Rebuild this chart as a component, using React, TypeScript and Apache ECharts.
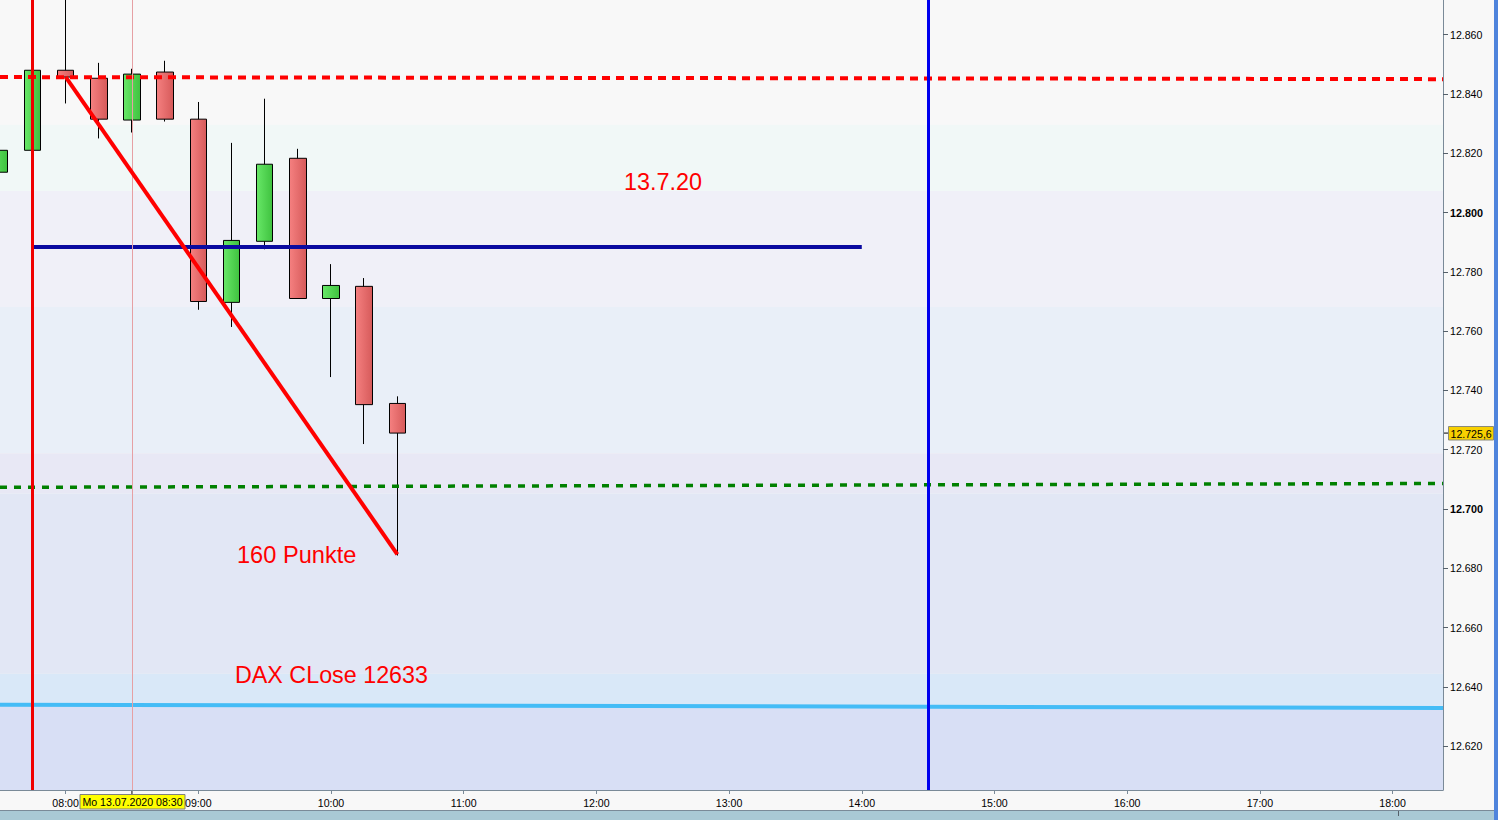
import React, { useEffect, useRef } from 'react';
import * as echarts from 'echarts';

// ---- data (minutes since midnight, DAX points) ----
const candleTimes = [450, 465, 480, 495, 510, 525, 540, 555, 570, 585, 600, 615, 630];
const opens  = [12813.6, 12821.0, 12848.0, 12845.3, 12831.2, 12847.4, 12831.5, 12769.7, 12790.3, 12818.3, 12771.0, 12775.1, 12735.6];
const closes = [12821.0, 12848.0, 12845.7, 12831.5, 12846.7, 12831.5, 12770.0, 12790.6, 12816.3, 12771.0, 12775.4, 12735.2, 12725.6];
const lows   = [12813.0, 12820.5, 12836.8, 12825.0, 12827.0, 12830.7, 12767.2, 12761.4, 12787.6, 12771.0, 12744.5, 12721.9, 12684.3];
const highs  = [12821.5, 12848.5, 12878.0, 12850.5, 12848.5, 12851.2, 12837.3, 12823.5, 12838.4, 12821.5, 12782.6, 12777.9, 12738.0];

const xTickMinutes = [480, 540, 600, 660, 720, 780, 840, 900, 960, 1020, 1080];
const yTickValues = [12620, 12640, 12660, 12680, 12700, 12720, 12740, 12760, 12780, 12800, 12820, 12840, 12860];

const X_MIN = 450.34;
const X_MAX = 1102.8;
const Y_MIN = 12605.2;
const Y_MAX = 12871.7;

const redDashLevel = [[X_MIN, 12845.7], [X_MAX, 12845.0]];
const greenDashLevel = [[X_MIN, 12707.3], [X_MAX, 12708.6]];
const daxCloseLevel = [[X_MIN, 12634.0], [X_MAX, 12632.9]];
const navyLevel = [[465, 12788.4], [840, 12788.4]];
const dropLine = [[480, 12845.8], [630, 12684.7]];

const redVerticalTime = 465;
const crossTime = 510;
const blueVerticalTime = 870;
const lastClose = 12725.6;

const bandEdges = [Y_MAX, 12829.6, 12807.3, 12768.1, 12718.8, 12705.2, 12644.4, 12633.6, Y_MIN];
const bandColors = ['#f8f8f8', '#f1f8f7', '#f0f0f8', '#e9eff8', '#e8e8f5', '#e2e7f5', '#d9e8f8', '#d8dff5'];

const FONT = '"Liberation Sans", Arial, sans-serif';

const fmtPrice = (v: number) => (v / 1000).toFixed(3);
const fmtTime = (m: number) => {
  const h = Math.floor(m / 60);
  const mm = Math.round(m - h * 60);
  return String(h).padStart(2, '0') + ':' + String(mm).padStart(2, '0');
};

export default function App() {
  const ref = useRef<HTMLDivElement>(null);

  useEffect(() => {
    if (!ref.current) return;
    const chart = echarts.init(ref.current, undefined, { renderer: 'svg' });

    const candleData = candleTimes.map((t, i) => [t, opens[i], closes[i], lows[i], highs[i]]);

    const areaData = bandColors.map((c, i) => [
      { yAxis: bandEdges[i], itemStyle: { color: c } },
      { yAxis: bandEdges[i + 1] },
    ]);

    const redGrad = new echarts.graphic.LinearGradient(0, 0, 1, 0, [
      { offset: 0, color: '#f58080' },
      { offset: 1, color: '#d65a5a' },
    ]);
    const greenGrad = new echarts.graphic.LinearGradient(0, 0, 1, 0, [
      { offset: 0, color: '#68e868' },
      { offset: 1, color: '#3fc23f' },
    ]);

    const lineSeries = (data: number[][], color: string, width: number, type: any, z: number) => ({
      type: 'line',
      data,
      symbol: 'none',
      silent: true,
      z,
      lineStyle: { color, width, type },
    });

    chart.setOption({
      animation: false,
      backgroundColor: '#f8f8f8',
      grid: { left: 0, top: 0, right: 55, bottom: 30 },
      xAxis: {
        type: 'value',
        min: X_MIN,
        max: X_MAX,
        position: 'bottom',
        splitLine: { show: false },
        axisLine: { show: true, onZero: false, lineStyle: { color: '#7a8a98', width: 1 } },
        axisTick: { show: true, customValues: xTickMinutes, length: 4, lineStyle: { color: '#7a8a98' } },
        axisLabel: {
          customValues: xTickMinutes,
          formatter: (v: number) => fmtTime(v),
          color: '#000',
          fontSize: 10.6,
          fontFamily: FONT,
          margin: 7,
        },
      },
      yAxis: {
        type: 'value',
        position: 'right',
        min: Y_MIN,
        max: Y_MAX,
        splitLine: { show: false },
        axisLine: { show: true, lineStyle: { color: '#7a8a98', width: 1 } },
        axisTick: { show: true, customValues: yTickValues, length: 5, lineStyle: { color: '#55606a' } },
        axisLabel: {
          customValues: yTickValues,
          margin: 7,
          formatter: (v: number) => (Math.round(v) % 100 === 0 ? `{b|${fmtPrice(v)}}` : `{n|${fmtPrice(v)}}`),
          rich: {
            b: { fontWeight: 'bold', fontSize: 10.8, fontFamily: FONT, color: '#000' },
            n: { fontSize: 10.6, fontFamily: FONT, color: '#000' },
          },
        },
      },
      series: [
        {
          type: 'line',
          data: [],
          silent: true,
          z: 0,
          markArea: { silent: true, data: areaData },
        },
        {
          type: 'candlestick',
          data: candleData,
          encode: { x: 0, y: [1, 2, 3, 4] },
          barWidth: 17,
          z: 2,
          itemStyle: {
            color: greenGrad,
            color0: redGrad,
            borderColor: '#000',
            borderColor0: '#000',
            borderWidth: 1,
          },
        },
        {
          type: 'line',
          data: [],
          silent: true,
          z: 3,
          markLine: {
            silent: true,
            symbol: ['none', 'none'],
            label: { show: false },
            data: [
              { xAxis: crossTime, lineStyle: { color: '#e6a0a4', width: 1, type: 'solid' } },
              { xAxis: redVerticalTime, lineStyle: { color: '#f00000', width: 3, type: 'solid' } },
              { xAxis: blueVerticalTime, lineStyle: { color: '#0000ee', width: 3, type: 'solid' } },
            ],
          },
        },
        lineSeries(redDashLevel, '#ff0000', 4, [8, 6], 4),
        lineSeries(greenDashLevel, '#008000', 3.5, [7, 7], 4),
        lineSeries(daxCloseLevel, '#44bcf6', 4, 'solid', 4),
        lineSeries(navyLevel, '#0a0aa0', 4, 'solid', 4),
        lineSeries(dropLine, '#ff0000', 4, 'solid', 5),
      ],
    });

    const py = chart.convertToPixel({ yAxisIndex: 0 }, lastClose) as number;
    const px = chart.convertToPixel({ xAxisIndex: 0 }, crossTime) as number;

    chart.setOption({
      graphic: [
        { type: 'rect', shape: { x: 0, y: 810, width: 1494, height: 10 }, style: { fill: '#a9c9d5' }, silent: true },
        { type: 'line', shape: { x1: 0, y1: 810.5, x2: 1494, y2: 810.5 }, style: { stroke: '#7a8a98', lineWidth: 1 }, silent: true },
        { type: 'line', shape: { x1: 1398.5, y1: 811, x2: 1398.5, y2: 816 }, style: { stroke: '#55606a', lineWidth: 1 }, silent: true },
        { type: 'rect', shape: { x: 1494, y: 0, width: 4, height: 820 }, style: { fill: '#4f84dc' }, silent: true },
        // current price label
        { type: 'line', shape: { x1: 1443, y1: py, x2: 1448, y2: py }, style: { stroke: '#000', lineWidth: 1 }, silent: true },
        {
          type: 'rect',
          shape: { x: 1448.5, y: Math.round(py) - 6.5, width: 45, height: 13.5 },
          style: { fill: '#f8d000', stroke: '#8a8a7a', lineWidth: 1 },
          silent: true,
        },
        {
          type: 'text',
          x: 1450.5,
          y: Math.round(py) + 0.5,
          style: { text: '12.725,6', fill: '#000', fontSize: 10.6, fontFamily: FONT, verticalAlign: 'middle', align: 'left' },
          silent: true,
        },
        // crosshair time label
        { type: 'line', shape: { x1: px, y1: 790, x2: px, y2: 795 }, style: { stroke: '#000', lineWidth: 1 }, silent: true },
        {
          type: 'rect',
          shape: { x: Math.round(px) - 52, y: 794.5, width: 105, height: 14.5 },
          style: { fill: '#ffff00', stroke: '#808080', lineWidth: 1 },
          silent: true,
        },
        {
          type: 'text',
          x: Math.round(px) + 0.5,
          y: 802,
          style: { text: 'Mo 13.07.2020 08:30', fill: '#000', fontSize: 10.6, fontFamily: FONT, verticalAlign: 'middle', align: 'center' },
          silent: true,
        },
        // annotations
        {
          type: 'text', x: 624, y: 181.5, z: 10,
          style: { text: '13.7.20', fill: '#ff0000', fontSize: 23.4, fontFamily: FONT, verticalAlign: 'middle', align: 'left' },
          silent: true,
        },
        {
          type: 'text', x: 237, y: 555, z: 10,
          style: { text: '160 Punkte', fill: '#ff0000', fontSize: 23.6, fontFamily: FONT, verticalAlign: 'middle', align: 'left' },
          silent: true,
        },
        {
          type: 'text', x: 235, y: 674.5, z: 10,
          style: { text: 'DAX CLose 12633', fill: '#ff0000', fontSize: 23.3, fontFamily: FONT, verticalAlign: 'middle', align: 'left' },
          silent: true,
        },
      ],
    });

    return () => chart.dispose();
  }, []);

  return (
    <div
      ref={ref}
      style={{ position: 'fixed', left: 0, top: 0, width: 1498, height: 820 }}
    />
  );
}
